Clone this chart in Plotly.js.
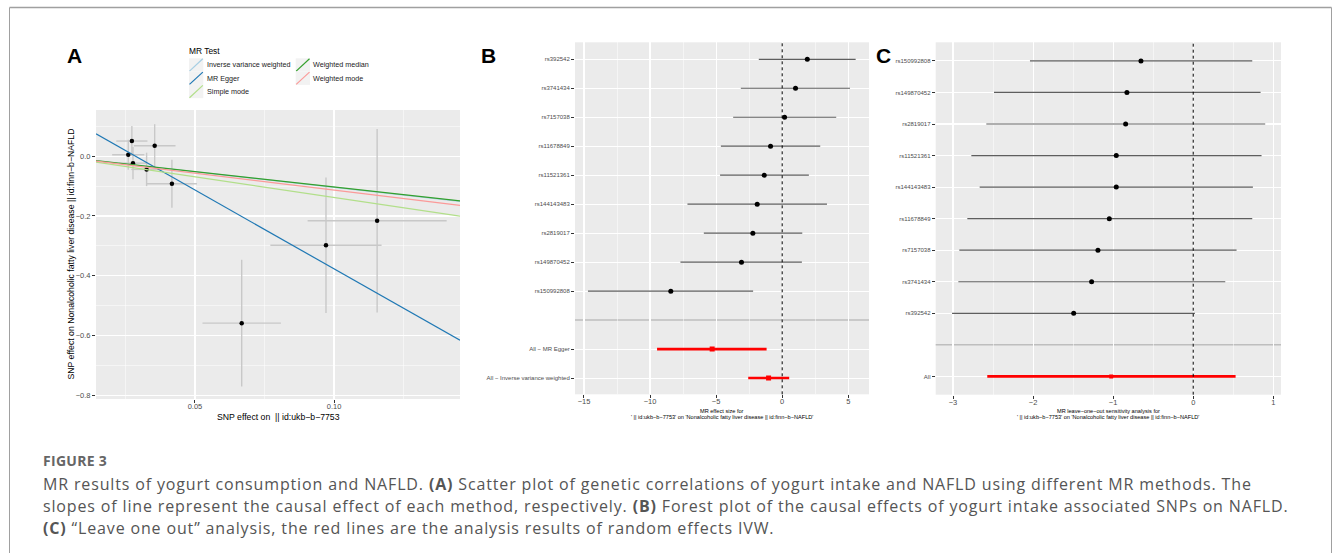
<!DOCTYPE html>
<html><head><meta charset="utf-8">
<script src="https://cdn.plot.ly/plotly-3.0.1.min.js"></script>
<style>html,body{margin:0;padding:0;background:#fff;overflow:hidden}#chart{width:1333px;height:553px}</style>
</head><body><div id="chart"></div>
<script>
// ---------- Panel A: scatter of SNP effects ----------
const snpBetaExposure = [0.0273, 0.0355, 0.0260, 0.0277, 0.0326, 0.0417, 0.0971, 0.1155, 0.0668];
const snpBetaOutcome  = [0.051, 0.0355, 0.005, -0.023, -0.044, -0.092, -0.298, -0.216, -0.559];
const snpSeExposure   = [0.0056, 0.0075, 0.0058, 0.0050, 0.0055, 0.0090, 0.0200, 0.0250, 0.0141];
const snpSeOutcome    = [0.050, 0.072, 0.050, 0.054, 0.056, 0.080, 0.227, 0.307, 0.212];
const methodNames      = ["Inverse variance weighted", "MR Egger", "Simple mode", "Weighted median", "Weighted mode"];
const methodSlopes     = [-1.04, -5.28, -1.38, -1.03, -1.13];
const methodIntercepts = [0, 0.151, 0, 0, 0];
const methodColors     = ["#A6CEE3", "#1F78B4", "#B2DF8A", "#33A02C", "#FB9A99"];

// ---------- Panel B: forest plot ----------
const forestLabels = ["rs392542", "rs3741434", "rs7157038", "rs11678849", "rs11521361", "rs144143483", "rs2819017", "rs149870452", "rs150992808"];
const forestEst = [1.90, 1.01, 0.18, -0.88, -1.36, -1.89, -2.22, -3.08, -8.43];
const forestLo  = [-1.77, -3.13, -3.71, -4.64, -4.70, -7.17, -5.93, -7.70, -14.70];
const forestHi  = [5.56, 5.13, 4.09, 2.88, 2.02, 3.39, 1.52, 1.49, -2.20];
const forestTotLabels = ["All \u2212 MR Egger", "All \u2212 Inverse variance weighted"];
const forestTotEst = [-5.30, -1.03];
const forestTotLo  = [-9.47, -2.57];
const forestTotHi  = [-1.18, 0.53];

// ---------- Panel C: leave-one-out ----------
const looLabels = ["rs150992808", "rs149870452", "rs2819017", "rs11521361", "rs144143483", "rs11678849", "rs7157038", "rs3741434", "rs392542"];
const looEst = [-0.653, -0.828, -0.844, -0.961, -0.961, -1.048, -1.190, -1.269, -1.493];
const looLo  = [-2.039, -2.488, -2.584, -2.771, -2.667, -2.821, -2.921, -2.933, -3.012];
const looHi  = [0.737, 0.841, 0.899, 0.853, 0.745, 0.737, 0.541, 0.400, 0.021];
const looAllLabels = ["All"];
const looAllEst = [-1.024];
const looAllLo  = [-2.572];
const looAllHi  = [0.529];

// ---------- Text ----------
const xTitleA = "SNP effect on  || id:ukb\u2212b\u22127753";
const yTitleA = "SNP effect on Nonalcoholic fatty liver disease || id:finn\u2212b\u2212NAFLD";
const xTitleB = ["MR effect size for", "' || id:ukb\u2212b\u22127753' on 'Nonalcoholic fatty liver disease || id:finn\u2212b\u2212NAFLD'"];
const xTitleC = ["MR leave\u2212one\u2212out sensitivity analysis for", "' || id:ukb\u2212b\u22127753' on 'Nonalcoholic fatty liver disease || id:finn\u2212b\u2212NAFLD'"];
const legendTitle = "MR Test";
const figureLabel = "FIGURE 3";
const captionLines = [
  "MR results of yogurt consumption and NAFLD. <b>(A)</b> Scatter plot of genetic correlations of yogurt intake and NAFLD using different MR methods. The",
  "slopes of line represent the causal effect of each method, respectively. <b>(B)</b> Forest plot of the causal effects of yogurt intake associated SNPs on NAFLD.",
  "<b>(C)</b> \u201CLeave one out\u201D analysis, the red lines are the analysis results of random effects IVW."
];

// ---------- Layout helpers ----------
const W = 1333, H = 553;
const px = x => x / W;
const py = y => 1 - y / H;
const RF = "Liberation Sans, Arial, Helvetica, sans-serif";
const CF = "Open Sans, Noto Sans, sans-serif";

const rangeAx = [0.0144, 0.1453];
const rangeAy = [-0.813, 0.155];

const traces = [];

// Panel A points with error bars
traces.push({
  type: 'scatter', mode: 'markers', xaxis: 'x', yaxis: 'y',
  x: snpBetaExposure, y: snpBetaOutcome,
  marker: {color: '#000000', size: 4.5},
  error_x: {type: 'data', array: snpSeExposure, width: 0, color: '#C8C8C8', thickness: 1.4},
  error_y: {type: 'data', array: snpSeOutcome, width: 0, color: '#C8C8C8', thickness: 1.4},
  hoverinfo: 'skip'
});
// Panel A method lines
methodNames.forEach((m, i) => {
  traces.push({
    type: 'scatter', mode: 'lines', xaxis: 'x', yaxis: 'y', name: m,
    x: rangeAx, y: rangeAx.map(v => methodIntercepts[i] + methodSlopes[i] * v),
    line: {color: methodColors[i], width: 1.2}, hoverinfo: 'skip'
  });
});

// Panel B
const rowsB = forestLabels.map((_, i) => i + 1);
const rowsBTot = forestTotLabels.map((_, i) => forestLabels.length + 2 + i);
traces.push({
  type: 'scatter', mode: 'markers', xaxis: 'x2', yaxis: 'y2',
  x: forestEst, y: rowsB,
  marker: {color: '#000000', size: 5},
  error_x: {type: 'data', symmetric: false,
    array: forestHi.map((h, i) => h - forestEst[i]),
    arrayminus: forestLo.map((l, i) => forestEst[i] - l),
    width: 0, color: '#5E5E5E', thickness: 1.2},
  hoverinfo: 'skip'
});
traces.push({
  type: 'scatter', mode: 'markers', xaxis: 'x2', yaxis: 'y2',
  x: forestTotEst, y: rowsBTot,
  marker: {color: '#FF0000', size: 5, symbol: 'square'},
  error_x: {type: 'data', symmetric: false,
    array: forestTotHi.map((h, i) => h - forestTotEst[i]),
    arrayminus: forestTotLo.map((l, i) => forestTotEst[i] - l),
    width: 0, color: '#FF0000', thickness: 2.6},
  hoverinfo: 'skip'
});

// Panel C
const rowsC = looLabels.map((_, i) => i + 1);
const rowsCAll = looAllLabels.map((_, i) => looLabels.length + 2 + i);
traces.push({
  type: 'scatter', mode: 'markers', xaxis: 'x3', yaxis: 'y3',
  x: looEst, y: rowsC,
  marker: {color: '#000000', size: 5},
  error_x: {type: 'data', symmetric: false,
    array: looHi.map((h, i) => h - looEst[i]),
    arrayminus: looLo.map((l, i) => looEst[i] - l),
    width: 0, color: '#5E5E5E', thickness: 1.2},
  hoverinfo: 'skip'
});
traces.push({
  type: 'scatter', mode: 'markers', xaxis: 'x3', yaxis: 'y3',
  x: looAllEst, y: rowsCAll,
  marker: {color: '#FF0000', size: 4, symbol: 'square'},
  error_x: {type: 'data', symmetric: false,
    array: looAllHi.map((h, i) => h - looAllEst[i]),
    arrayminus: looAllLo.map((l, i) => looAllEst[i] - l),
    width: 0, color: '#FF0000', thickness: 2.6},
  hoverinfo: 'skip'
});

const baseAxis = {
  showgrid: true, gridcolor: '#FFFFFF', gridwidth: 1.1, zeroline: false,
  ticks: 'outside', ticklen: 3, tickwidth: 1, tickcolor: '#333333',
  showline: false, automargin: false, fixedrange: true,
  tickfont: {family: RF, size: 7.5, color: '#4D4D4D'}
};
const minorGrid = {showgrid: true, gridcolor: '#FFFFFF', gridwidth: 0.5, ticks: ''};

const layout = {
  width: W, height: H, margin: {l: 0, r: 0, t: 0, b: 0},
  paper_bgcolor: '#FFFFFF', plot_bgcolor: '#EBEBEB', showlegend: false,
  font: {family: RF},
  xaxis: Object.assign({}, baseAxis, {
    domain: [px(96), px(460)], range: rangeAx, anchor: 'y',
    tick0: 0, dtick: 0.05, tickformat: '.2f', ticklabelstandoff: -3,
    minor: Object.assign({}, minorGrid, {dtick: 0.025, tick0: 0})
  }),
  yaxis: Object.assign({}, baseAxis, {
    domain: [py(399), py(110)], range: rangeAy, anchor: 'x',
    tick0: 0, dtick: 0.2, tickformat: '.1f',
    minor: Object.assign({}, minorGrid, {dtick: 0.1, tick0: 0})
  }),
  xaxis2: Object.assign({}, baseAxis, {
    domain: [px(575), px(869)], range: [-15.68, 6.57], anchor: 'y2',
    tick0: 0, dtick: 5, ticklabelstandoff: -3,
    minor: Object.assign({}, minorGrid, {dtick: 2.5, tick0: 0})
  }),
  yaxis2: Object.assign({}, baseAxis, {
    domain: [py(394.3), py(42.3)], range: [12.56, 0.414], anchor: 'x2',
    tickmode: 'array', tickvals: rowsB.concat(rowsBTot), ticktext: forestLabels.concat(forestTotLabels),
    tickfont: {family: RF, size: 6, color: '#4D4D4D'}
  }),
  xaxis3: Object.assign({}, baseAxis, {
    domain: [px(935.7), px(1281)], range: [-3.216, 1.096], anchor: 'y3',
    tick0: 0, dtick: 1, ticklabelstandoff: -3,
    minor: Object.assign({}, minorGrid, {dtick: 0.5, tick0: 0})
  }),
  yaxis3: Object.assign({}, baseAxis, {
    domain: [py(394.7), py(42.3)], range: [11.58, 0.41], anchor: 'x3',
    tickmode: 'array', tickvals: rowsC.concat(rowsCAll), ticktext: looLabels.concat(looAllLabels),
    tickfont: {family: RF, size: 6, color: '#4D4D4D'}
  }),
  shapes: [],
  annotations: []
};

// separator lines & dotted zero lines
layout.shapes.push({type: 'line', xref: 'x2 domain', yref: 'y2', x0: 0, x1: 1, y0: forestLabels.length + 1, y1: forestLabels.length + 1, line: {color: '#BEBEBE', width: 1.5}, layer: 'below'});
layout.shapes.push({type: 'line', xref: 'x3 domain', yref: 'y3', x0: 0, x1: 1, y0: looLabels.length + 1, y1: looLabels.length + 1, line: {color: '#BEBEBE', width: 1.5}, layer: 'below'});
layout.shapes.push({type: 'line', xref: 'x2', yref: 'y2 domain', x0: 0, x1: 0, y0: 0, y1: 1, line: {color: '#000000', width: 1, dash: 'dot'}});
layout.shapes.push({type: 'line', xref: 'x3', yref: 'y3 domain', x0: 0, x1: 0, y0: 0, y1: 1, line: {color: '#000000', width: 1, dash: 'dot'}});

// outer frame
const frameColor = '#A0A0A0';
layout.shapes.push({type: 'line', xref: 'paper', yref: 'paper', x0: px(9.5), x1: px(9.5), y0: py(7.5), y1: 0, line: {color: frameColor, width: 1}});
layout.shapes.push({type: 'line', xref: 'paper', yref: 'paper', x0: px(9.5), x1: px(1331.5), y0: py(7.5), y1: py(7.5), line: {color: frameColor, width: 1.3}});
layout.shapes.push({type: 'line', xref: 'paper', yref: 'paper', x0: px(1331.5), x1: px(1331.5), y0: py(7.5), y1: 0, line: {color: frameColor, width: 1}});

// legend for panel A (manual, ggplot style keys)
layout.annotations.push({xref: 'paper', yref: 'paper', x: px(187), y: py(50.7), xanchor: 'left', yanchor: 'middle', showarrow: false, text: legendTitle, font: {family: RF, size: 8.4, color: '#000000'}});
methodNames.forEach((m, i) => {
  const col = Math.floor(i / 3), row = i % 3;
  const kx = col === 0 ? 189 : 295.7;
  const ky = 58.3 + row * 13.3;
  const kw = 14.3, kh = 13.3;
  layout.shapes.push({type: 'rect', xref: 'paper', yref: 'paper', x0: px(kx), x1: px(kx + kw), y0: py(ky + kh), y1: py(ky), fillcolor: '#F2F2F2', line: {width: 0}});
  layout.shapes.push({type: 'line', xref: 'paper', yref: 'paper', x0: px(kx + 0.5), x1: px(kx + kw - 0.5), y0: py(ky + kh - 0.5), y1: py(ky + 0.5), line: {color: methodColors[i], width: 1.2}});
  layout.annotations.push({xref: 'paper', yref: 'paper', x: px(kx + kw + 1.2), y: py(ky + kh / 2), xanchor: 'left', yanchor: 'middle', showarrow: false, text: m, font: {family: RF, size: 7.2, color: '#1A1A1A'}});
});

// panel letters
[["A", 64.5], ["B", 478.5], ["C", 874]].forEach(([t, x]) => {
  layout.annotations.push({xref: 'paper', yref: 'paper', x: px(x), y: py(56), xanchor: 'left', yanchor: 'middle', showarrow: false, text: '<b>' + t + '</b>', font: {family: RF, size: 21, color: '#000000'}});
});

// axis titles
layout.annotations.push({xref: 'paper', yref: 'paper', x: px(278), y: py(416.5), xanchor: 'center', yanchor: 'middle', showarrow: false, text: xTitleA, font: {family: RF, size: 8.7, color: '#000000'}});
layout.annotations.push({xref: 'paper', yref: 'paper', x: px(70), y: py(254.5), xanchor: 'center', yanchor: 'middle', showarrow: false, textangle: -90, text: yTitleA, font: {family: RF, size: 8.7, color: '#000000'}});
xTitleB.forEach((t, i) => layout.annotations.push({xref: 'paper', yref: 'paper', x: px(722), y: py(410.5 + i * 6.7), xanchor: 'center', yanchor: 'middle', showarrow: false, text: t, font: {family: RF, size: 5.6, color: '#000000'}}));
xTitleC.forEach((t, i) => layout.annotations.push({xref: 'paper', yref: 'paper', x: px(1108), y: py(410.5 + i * 6.7), xanchor: 'center', yanchor: 'middle', showarrow: false, text: t, font: {family: RF, size: 5.6, color: '#000000'}}));

// caption
const captionIdx = [];
captionIdx.push(layout.annotations.length);
layout.annotations.push({xref: 'paper', yref: 'paper', x: px(40.5), y: py(460), xanchor: 'left', yanchor: 'middle', showarrow: false, text: '<b>' + figureLabel + '</b>', font: {family: CF, size: 14, color: '#666666'}});
captionLines.forEach((t, i) => {
  captionIdx.push(layout.annotations.length);
  layout.annotations.push({xref: 'paper', yref: 'paper', x: px(40.5), y: py(484 + i * 22), xanchor: 'left', yanchor: 'middle', showarrow: false, text: t, font: {family: CF, size: 16, color: '#555555'}});
});

Plotly.newPlot('chart', traces, layout, {staticPlot: true, displayModeBar: false}).then(() => {
  captionIdx.forEach((k, j) => {
    const el = document.querySelector('g.annotation[data-index="' + k + '"] text.annotation-text');
    if (!el) return;
    const bb = el.getBBox();
    el.setAttribute('text-anchor', 'start');
    el.setAttribute('x', bb.x);
    el.style.letterSpacing = (j === 0 ? '0.3px' : '0.85px');
  });
});
</script>
</body></html>
